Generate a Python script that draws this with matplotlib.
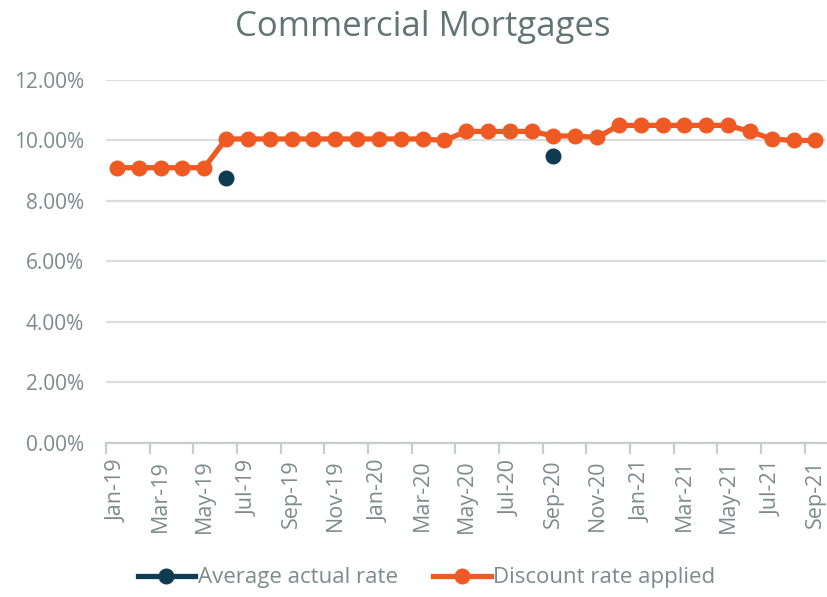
import numpy as np
import matplotlib.pyplot as plt
from matplotlib.lines import Line2D

plt.rcParams['font.family'] = ['Open Sans', 'DejaVu Sans']

# --- Data ---
months = ["Jan-19", "Feb-19", "Mar-19", "Apr-19", "May-19", "Jun-19", "Jul-19", "Aug-19",
          "Sep-19", "Oct-19", "Nov-19", "Dec-19", "Jan-20", "Feb-20", "Mar-20", "Apr-20",
          "May-20", "Jun-20", "Jul-20", "Aug-20", "Sep-20", "Oct-20", "Nov-20", "Dec-20",
          "Jan-21", "Feb-21", "Mar-21", "Apr-21", "May-21", "Jun-21", "Jul-21", "Aug-21",
          "Sep-21"]
discount_rate = [9.1, 9.1, 9.1, 9.1, 9.1, 10.05, 10.05, 10.05, 10.05, 10.05, 10.05, 10.05,
                 10.05, 10.05, 10.05, 10.0, 10.3, 10.3, 10.3, 10.3, 10.15, 10.15, 10.1, 10.5,
                 10.5, 10.5, 10.5, 10.5, 10.5, 10.3, 10.05, 10.0, 10.0]
actual_months = ["Jun-19", "Sep-20"]
actual_rate = [8.77, 9.48]

orange = "#EF5A24"
navy = "#0F3B50"
grid_c = "#d9dddd"
text_c = "#7d8b8b"

x = np.arange(len(months))
xa = [months.index(m) for m in actual_months]

fig = plt.figure(figsize=(8.28, 5.97), dpi=100)
ax = fig.add_axes([0.128, 0.258, 0.870, 0.608])

ax.plot(x, discount_rate, color=orange, lw=3.8, marker="o", ms=10.5, zorder=3)
ax.plot(xa, actual_rate, color=navy, lw=0, marker="o", ms=10.5, zorder=4)

ax.set_ylim(0, 12)
ax.set_yticks(np.arange(0, 13, 2))
ax.set_yticklabels([f"{v:.2f}%" for v in np.arange(0, 13, 2)])
ax.set_xlim(-0.5, len(months) - 0.5)
ax.set_xticks(x[::2])
ax.set_xticklabels(months[::2], rotation=90)
ax.set_xticks(np.arange(-0.5, len(months), 2), minor=True)

ax.yaxis.grid(True, color=grid_c, lw=1.6)
ax.set_axisbelow(True)
for s in ["top", "right", "left"]:
    ax.spines[s].set_visible(False)
ax.spines["bottom"].set_color("#c8cccc")
ax.spines["bottom"].set_linewidth(1.6)

ax.tick_params(axis="y", length=0, pad=16, labelsize=15, labelcolor=text_c)
ax.tick_params(axis="x", which="major", length=0, pad=12, labelsize=15.5, labelcolor=text_c)
ax.tick_params(axis="x", which="minor", length=8, width=1.6, color="#c8cccc")

fig.text(0.51, 0.955, "Commercial Mortgages", ha="center", va="center",
         fontsize=25, color="#627473")

handles = [Line2D([], [], color=navy, lw=3.8, marker="o", ms=10.5),
           Line2D([], [], color=orange, lw=3.8, marker="o", ms=10.5)]
fig.legend(handles, ["Average actual rate", "Discount rate applied"],
           loc="center", bbox_to_anchor=(0.515, 0.032), ncol=2, frameon=False,
           fontsize=16, labelcolor=text_c, handlelength=2.6, handletextpad=0.1,
           columnspacing=1.6)

fig.savefig("out.png", dpi=100)
